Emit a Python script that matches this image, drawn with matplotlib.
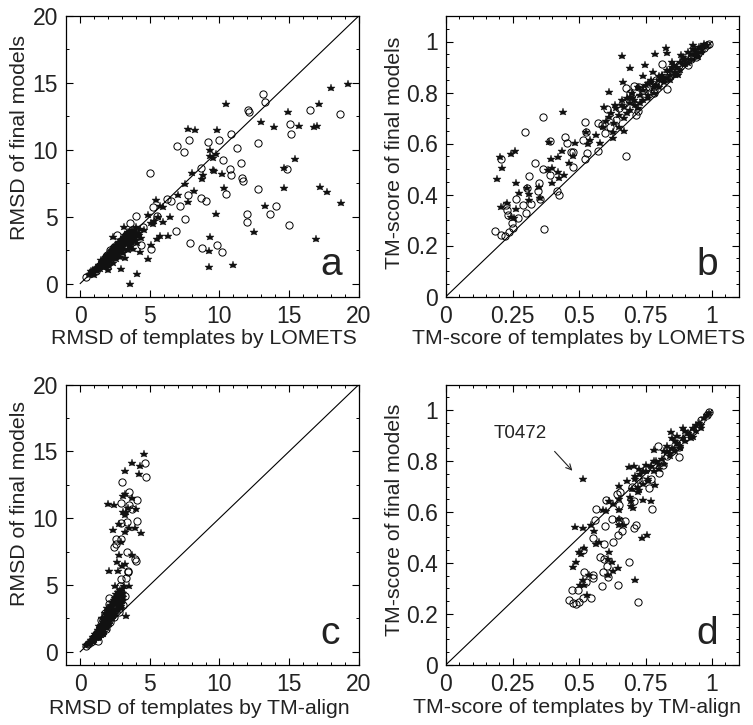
import matplotlib
matplotlib.use("Agg")
import matplotlib.pyplot as plt
from matplotlib.ticker import MultipleLocator

plt.rcParams['font.family'] = ['Liberation Sans', 'DejaVu Sans']

# Panel a: final model RMSD against LOMETS template RMSD
a_star_x = [19.2, 18.0, 17.15, 14.9, 10.45, 12.95, 13.9, 15.7, 16.8, 17.0, 7.75, 8.25, 9.85, 15.45, 14.65, 14.65, 17.2,
            17.7, 18.7, 16.95, 13.3, 12.5, 9.75, 9.35, 9.25, 9.25, 10.95, 10.3, 10.15, 9.5, 9.6, 8.8, 8.75, 8.05, 7.5,
            7.0, 8.15, 7.75, 9.3, 9.75, 9.35, 9.55, 5.45, 5.7, 5.95, 6.45, 5.95, 6.3, 5.7, 5.5, 5.05, 4.85, 4.05, 3.6,
            2.9, 2.35, 3.15, 4.9, 5.25, 4.3, 0.7, 0.8, 0.9, 1.0, 1.05, 1.2, 1.3, 1.4, 1.5, 1.6, 1.7, 1.75, 1.8, 1.9,
            2.0, 2.0, 2.05, 2.1, 2.2, 2.3, 2.35, 2.4, 2.5, 2.55, 2.6, 2.7, 2.8, 2.85, 2.9, 3.0, 3.05, 3.1, 3.2, 3.25,
            3.3, 3.4, 3.5, 3.55, 3.6, 3.7, 3.8, 3.9, 4.0, 4.1, 4.2, 4.3, 4.4, 4.6, 5.1, 5.3, 5.6, 1.15, 1.55, 1.85,
            2.25, 2.65, 2.95, 3.15, 3.45, 3.75]
a_star_y = [14.9, 14.6, 13.4, 12.8, 13.4, 12.05, 11.7, 11.8, 11.7, 11.8, 11.55, 11.45, 11.5, 9.3, 8.6, 7.15, 7.25,
            6.85, 6.05, 3.3, 5.8, 3.85, 5.2, 3.45, 2.4, 1.2, 1.35, 7.15, 8.2, 8.5, 8.4, 8.1, 7.8, 8.3, 7.45,
            6.65, 6.95, 6.1, 10.0, 9.7, 9.5, 9.35, 6.25, 5.8, 5.75, 5.0, 4.6, 3.55, 3.55, 3.35, 2.9, 1.8, 0.7, 0.0,
            1.05, 3.5, 4.2, 5.1, 4.45, 2.35, 0.7, 0.9, 0.75, 0.6, 1.0, 0.9, 1.2, 1.05, 1.4, 1.3, 1.6, 1.2, 1.75, 1.5,
            2.0, 1.0, 1.3, 1.7, 2.2, 1.9, 1.5, 2.6, 2.1, 2.8, 1.8, 2.4, 3.0, 2.0, 2.6, 3.2, 2.3, 2.8, 3.4, 1.9,
            3.0, 2.5, 3.5, 2.9, 3.2, 3.7, 2.6, 3.4, 3.8, 3.0, 3.6, 4.1, 3.4, 4.0, 4.5, 4.7, 5.0, 1.15, 1.5, 1.9,
            2.4, 2.2, 2.9, 2.6, 3.1, 3.3]
a_band_x = [0.6, 0.85, 0.95, 1.1, 1.25, 1.35, 1.45, 1.55, 1.65, 1.7,
            1.8, 1.85, 1.9, 1.95, 2.05, 2.1, 2.15, 2.2, 2.25, 2.3,
            2.4, 2.45, 2.5, 2.55, 2.6, 2.65, 2.7, 2.75, 2.8, 2.85,
            2.9, 2.95, 3.0, 3.05, 3.1, 3.15, 3.2, 3.25, 3.3, 3.35,
            3.4, 3.45, 3.5, 3.6, 3.65, 3.7, 3.8, 3.85, 3.95, 4.0,
            4.1, 4.25, 1.5, 1.75, 2.0, 2.2, 2.35, 2.5, 2.7, 2.9,
            3.1, 3.3, 3.55, 3.75]
a_band_y = [0.65, 0.85, 1.0, 1.1, 1.05, 1.35, 1.25, 1.6, 1.5, 1.8,
            1.4, 1.95, 1.7, 2.1, 1.75, 2.2, 1.9, 2.4, 2.05, 2.5,
            2.2, 2.7, 2.35, 2.55, 2.85, 2.3, 3.0, 2.55, 3.1, 2.65,
            3.25, 2.8, 2.7, 3.3, 2.95, 3.45, 3.0, 3.6, 3.2, 3.7,
            3.05, 3.85, 3.3, 3.9, 3.45, 4.0, 3.55, 3.95, 3.25, 4.2,
            3.6, 3.75, 1.75, 1.55, 1.6, 2.05, 2.6, 1.95, 2.25, 2.4,
            2.6, 3.4, 2.75, 3.05]
a_circle_x = [13.1, 13.3, 12.05, 12.15, 16.5, 18.65, 15.05, 15.15, 10.8, 10.0, 9.2, 7.8, 6.95, 7.45, 11.25, 12.8, 10.25,
              11.55, 8.7, 10.75, 10.8, 14.85, 11.65, 11.7, 12.75, 10.45, 7.75, 8.7, 9.05, 7.15, 6.55, 6.2, 5.0, 14.05,
              13.6, 11.95, 11.95, 15.0, 7.55, 6.85, 7.85, 8.75, 9.8, 10.15, 5.1, 4.0, 3.6, 2.65, 5.25, 5.5, 4.5, 4.4,
              0.45, 0.75, 1.1, 1.35, 1.6, 1.8, 1.95, 2.15, 2.3, 2.45, 2.6, 2.75, 2.9, 3.1, 3.3, 3.5, 3.7, 3.9, 1.7, 2.1]
a_circle_y = [14.2, 13.6, 13.0, 12.8, 13.0, 12.65, 11.9, 11.15, 11.15, 10.7, 10.55, 10.7, 10.25, 9.85, 10.1, 10.5, 9.2,
              9.0, 8.65, 8.55, 8.1, 8.55, 7.9, 7.7, 7.05, 6.7, 6.65, 6.4, 6.15, 5.8, 6.15, 6.3, 8.3, 5.8,
              5.2, 5.2, 4.6, 4.4, 4.8, 3.95, 3.05, 2.65, 2.9, 2.35, 2.55, 5.05, 4.55, 3.65, 5.7, 5.05, 4.25, 2.9,
              0.5, 0.8, 0.9, 1.3, 1.5, 1.9, 2.1, 2.5, 2.2, 2.7, 2.4, 2.9, 3.0, 3.1, 3.6, 3.2, 4.0, 3.5, 1.4, 1.7]

# Panel b: final model TM-score against LOMETS template TM-score
b_star_x = [0.203, 0.21, 0.193, 0.245, 0.26, 0.263, 0.276, 0.205, 0.229, 0.263, 0.244, 0.257, 0.313, 0.313, 0.303, 0.35,
            0.353, 0.388, 0.395, 0.4, 0.382, 0.397, 0.42, 0.42, 0.424, 0.436, 0.442, 0.439, 0.484, 0.464, 0.476, 0.526,
            0.533, 0.541, 0.564, 0.579, 0.589, 0.594, 0.612, 0.662, 0.692, 0.667, 0.746, 0.739, 0.784, 0.827, 0.83,
            0.67, 0.627, 0.629, 0.649, 0.614, 0.635, 0.67, 0.69, 0.708, 0.727, 0.758, 0.777, 0.802, 0.827, 0.84, 0.858,
            0.871, 0.883, 0.896, 0.908, 0.927, 0.937, 0.946, 0.971, 0.959]
b_star_y = [0.548, 0.503, 0.459, 0.558, 0.569, 0.446, 0.404, 0.35, 0.368, 0.345, 0.313, 0.306, 0.402, 0.378, 0.424, 0.43,
            0.385, 0.607, 0.538, 0.503, 0.496, 0.444, 0.546, 0.49, 0.463, 0.571, 0.476, 0.725, 0.601, 0.525, 0.551, 0.647,
            0.6, 0.614, 0.634, 0.603, 0.666, 0.742, 0.801, 0.945, 0.898, 0.843, 0.906, 0.865, 0.952, 0.974, 0.954,
            0.649, 0.647, 0.62, 0.666, 0.705, 0.751, 0.745, 0.784, 0.771, 0.817, 0.836, 0.882, 0.863, 0.856, 0.889, 0.908,
            0.869, 0.948, 0.928, 0.915, 0.987, 0.967, 0.941, 0.984, 0.978]
b_band_x = [0.60, 0.62, 0.63, 0.64, 0.65, 0.66, 0.67, 0.68, 0.69, 0.70,
            0.71, 0.72, 0.73, 0.74, 0.75, 0.76, 0.77, 0.78, 0.79, 0.80,
            0.81, 0.82, 0.83, 0.84, 0.85, 0.86, 0.87, 0.88, 0.89, 0.90,
            0.91, 0.92, 0.93, 0.94, 0.95, 0.96, 0.97, 0.98, 0.66, 0.68,
            0.70, 0.72, 0.74, 0.76, 0.78, 0.80, 0.82, 0.84, 0.86, 0.88,
            0.90, 0.92, 0.94, 0.96, 0.69, 0.73, 0.77, 0.81, 0.85, 0.89]
b_band_y = [0.69, 0.72, 0.68, 0.74, 0.71, 0.77, 0.70, 0.78, 0.73, 0.80,
            0.75, 0.82, 0.76, 0.77, 0.83, 0.79, 0.85, 0.80, 0.83, 0.82,
            0.87, 0.84, 0.89, 0.85, 0.92, 0.87, 0.90, 0.89, 0.94, 0.91,
            0.96, 0.93, 0.97, 0.95, 0.98, 0.96, 0.99, 0.985, 0.75, 0.72,
            0.78, 0.74, 0.81, 0.78, 0.82, 0.85, 0.85, 0.87, 0.88, 0.92,
            0.93, 0.95, 0.96, 0.975, 0.76, 0.79, 0.84, 0.86, 0.90, 0.91]
b_circle_x = [0.183, 0.205, 0.223, 0.238, 0.251, 0.37, 0.205, 0.297, 0.365, 0.226, 0.229, 0.234, 0.263, 0.248, 0.269, 0.291,
              0.3, 0.303, 0.321, 0.313, 0.333, 0.345, 0.351, 0.353, 0.365, 0.392, 0.39, 0.417, 0.426, 0.446, 0.454, 0.469,
              0.479, 0.479, 0.513, 0.523, 0.524, 0.529, 0.526, 0.57, 0.573, 0.585, 0.598, 0.605, 0.617, 0.677, 0.639,
              0.664, 0.677, 0.706, 0.727, 0.714, 0.723, 0.812, 0.832, 0.877, 0.911, 0.99, 0.94, 0.764, 0.789, 0.695,
              0.739, 0.865, 0.9, 0.84, 0.78, 0.96, 0.98, 0.92, 0.65, 0.69, 0.72, 0.75, 0.78, 0.8, 0.82, 0.85, 0.87,
              0.89, 0.92, 0.95, 0.97]
b_circle_y = [0.258, 0.243, 0.238, 0.254, 0.267, 0.264, 0.541, 0.647, 0.704, 0.359, 0.339, 0.319, 0.381, 0.289, 0.306, 0.359,
              0.326, 0.424, 0.361, 0.474, 0.522, 0.415, 0.446, 0.384, 0.499, 0.478, 0.61, 0.415, 0.4, 0.627, 0.601, 0.567,
              0.565, 0.509, 0.613, 0.683, 0.538, 0.562, 0.647, 0.682, 0.572, 0.673, 0.64, 0.736, 0.666, 0.55, 0.692,
              0.758, 0.817, 0.827, 0.823, 0.712, 0.729, 0.912, 0.813, 0.908, 0.908, 0.99, 0.941, 0.823, 0.849, 0.771,
              0.81, 0.889, 0.925, 0.87, 0.8, 0.965, 0.985, 0.93, 0.74, 0.80, 0.78, 0.82, 0.81, 0.84, 0.87, 0.89, 0.88,
              0.92, 0.94, 0.96, 0.975]

# Panel c: final model RMSD against TM-align template RMSD
c_star_x = [4.6, 3.7, 3.25, 4.3, 4.2, 3.05, 3.25, 3.7, 2.0, 2.45, 4.0, 3.45, 3.1, 3.3, 3.2, 2.35, 2.75, 4.35, 3.95, 3.5,
            3.2, 2.9, 2.75, 3.7, 2.65, 3.2, 3.0, 2.1, 2.7, 2.5, 3.5, 3.3, 0.55, 0.7, 0.85, 1.0, 1.15, 1.3, 1.4, 1.5, 1.6,
            1.7, 1.8, 1.9, 2.0, 2.1, 2.2, 2.3, 2.4, 2.5, 2.6, 2.7, 2.8, 2.9, 3.0, 3.1, 1.25, 1.45, 1.65, 1.85, 2.05,
            2.25, 2.45, 2.65, 2.85]
c_star_y = [14.8, 14.1, 13.55, 13.9, 13.3, 11.7, 11.8, 11.5, 11.05, 11.0, 10.7, 10.8, 10.45, 10.5, 10.25, 9.1, 9.6, 8.9,
            9.3, 9.25, 8.95, 8.2, 7.25, 7.25, 6.7, 6.55, 6.45, 6.05, 6.05, 4.95, 4.95, 2.7, 0.55, 0.7, 0.85, 0.95, 1.2,
            1.05, 1.5, 1.25, 2.0, 1.5, 2.4, 1.8, 2.9, 2.1, 3.4, 2.5, 3.7, 2.8, 4.1, 3.1, 4.4, 3.4, 4.7, 3.9, 1.45, 1.75,
            1.3, 2.2, 2.55, 3.0, 3.2, 3.6, 3.7]
c_band_x = [0.45, 0.6, 0.7, 0.8, 0.9, 0.95, 1.0, 1.05, 1.1, 1.2,
            1.25, 1.3, 1.35, 1.4, 1.45, 1.5, 1.55, 1.6, 1.65, 1.7,
            1.75, 1.8, 1.85, 1.9, 1.95, 2.0, 2.05, 2.1, 2.15, 2.2,
            2.25, 2.3, 2.35, 2.4, 2.45, 2.5, 2.55, 2.6, 2.65, 2.7,
            2.75, 2.8, 2.85, 2.9, 2.95, 3.0, 3.1, 3.15, 1.35, 1.55,
            1.75, 1.95, 2.15, 2.35, 2.55, 2.75, 2.95, 3.05, 1.6, 1.8]
c_band_y = [0.5, 0.6, 0.65, 0.9, 0.75, 1.1, 0.9, 1.3, 1.0, 1.4,
            1.1, 1.6, 1.25, 1.75, 1.4, 2.0, 1.55, 2.2, 1.7, 2.4,
            1.85, 2.6, 1.9, 2.8, 2.05, 3.1, 2.1, 3.2, 2.4, 3.5,
            2.55, 3.7, 2.7, 3.9, 2.85, 4.0, 3.1, 4.3, 3.2, 4.5,
            3.4, 3.7, 4.6, 3.6, 4.2, 3.8, 4.4, 4.9, 1.95, 2.5,
            2.9, 3.3, 2.7, 3.05, 3.6, 3.85, 3.3, 4.1, 1.9, 2.15]
c_circle_x = [4.65, 4.75, 3.0, 3.5, 4.05, 2.9, 3.5, 3.7, 4.1, 3.35, 2.95, 2.55, 2.95, 2.6, 2.4, 3.35, 3.9, 4.0, 3.45, 3.4,
              2.95, 3.3, 2.85, 2.1, 1.3, 0.4, 0.55, 0.75, 0.95, 1.1, 1.25, 1.4, 1.55, 1.7, 1.85, 2.0, 2.15, 2.3, 2.45,
              2.6, 2.75, 2.9, 3.05, 3.2, 1.5, 1.75, 2.05, 2.35, 2.55]
c_circle_y = [14.1, 13.1, 12.7, 11.95, 11.35, 11.15, 11.0, 10.7, 9.8, 9.75, 9.65, 8.45, 8.45, 8.05, 7.85, 7.5, 6.95, 6.8,
              6.05, 5.95, 5.45, 5.5, 4.95, 4.05, 0.8, 0.45, 0.6, 0.75, 1.0, 1.3, 1.15, 1.7, 1.4, 2.2, 1.7, 2.8, 2.2,
              3.4, 2.6, 4.0, 3.0, 4.5, 3.5, 4.2, 2.4, 2.9, 3.6, 3.0, 3.5]

# Panel d: final model TM-score against TM-align template TM-score
d_star_x = [0.516, 0.486, 0.515, 0.545, 0.558, 0.564, 0.574, 0.489, 0.479, 0.501, 0.52, 0.507, 0.504, 0.514, 0.52, 0.539,
            0.529, 0.614, 0.623, 0.608, 0.629, 0.645, 0.608, 0.709, 0.737, 0.754, 0.67, 0.649, 0.652, 0.589, 0.602, 0.627,
            0.614, 0.652, 0.652, 0.695, 0.695, 0.702, 0.739, 0.769, 0.787, 0.727, 0.652, 0.687, 0.708, 0.727, 0.752,
            0.783, 0.846, 0.927]
d_star_y = [0.729, 0.542, 0.537, 0.547, 0.527, 0.475, 0.482, 0.403, 0.384, 0.442, 0.458, 0.436, 0.314, 0.331, 0.312, 0.351,
            0.272, 0.442, 0.403, 0.416, 0.368, 0.38, 0.351, 0.332, 0.499, 0.508, 0.547, 0.573, 0.547, 0.607, 0.603, 0.632,
            0.645, 0.652, 0.606, 0.645, 0.623, 0.615, 0.649, 0.644, 0.707, 0.685, 0.704, 0.776, 0.78, 0.77, 0.783,
            0.842, 0.914, 0.894]
d_band_x = [0.70, 0.71, 0.72, 0.73, 0.74, 0.75, 0.76, 0.77, 0.78, 0.79,
            0.80, 0.81, 0.82, 0.83, 0.84, 0.85, 0.86, 0.87, 0.88, 0.89,
            0.90, 0.91, 0.92, 0.93, 0.94, 0.95, 0.96, 0.97, 0.98, 0.99,
            0.68, 0.69, 0.71, 0.72, 0.74, 0.76, 0.78, 0.80, 0.82, 0.84,
            0.86, 0.88, 0.90, 0.92, 0.94, 0.96, 0.83, 0.85, 0.87, 0.89]
d_band_y = [0.69, 0.73, 0.68, 0.75, 0.71, 0.76, 0.72, 0.78, 0.76, 0.80,
            0.77, 0.81, 0.79, 0.84, 0.82, 0.85, 0.84, 0.87, 0.86, 0.89,
            0.88, 0.91, 0.90, 0.93, 0.92, 0.95, 0.94, 0.97, 0.98, 0.99,
            0.72, 0.66, 0.74, 0.70, 0.76, 0.73, 0.80, 0.79, 0.84, 0.83,
            0.88, 0.85, 0.92, 0.89, 0.94, 0.93, 0.86, 0.89, 0.90, 0.93]
d_circle_x = [0.464, 0.476, 0.489, 0.501, 0.514, 0.545, 0.472, 0.495, 0.526, 0.518, 0.551, 0.551, 0.586, 0.591, 0.608, 0.605,
              0.579, 0.595, 0.516, 0.551, 0.595, 0.628, 0.645, 0.66, 0.648, 0.689, 0.721, 0.708, 0.714, 0.674, 0.652, 0.622,
              0.598, 0.561, 0.564, 0.602, 0.649, 0.642, 0.654, 0.708, 0.773, 0.762, 0.771, 0.802, 0.817, 0.877, 0.877,
              0.796, 0.99, 0.7, 0.72, 0.74, 0.75, 0.78, 0.83, 0.85, 0.9, 0.93, 0.96, 0.98]
d_circle_y = [0.255, 0.243, 0.237, 0.246, 0.262, 0.264, 0.292, 0.295, 0.325, 0.363, 0.351, 0.34, 0.308, 0.363, 0.344, 0.387,
              0.423, 0.416, 0.449, 0.499, 0.475, 0.482, 0.508, 0.525, 0.312, 0.403, 0.245, 0.537, 0.55, 0.563, 0.567, 0.573,
              0.544, 0.567, 0.61, 0.649, 0.628, 0.671, 0.678, 0.645, 0.613, 0.694, 0.73, 0.754, 0.783, 0.815, 0.855,
              0.859, 0.992, 0.7, 0.73, 0.72, 0.77, 0.79, 0.82, 0.84, 0.89, 0.92, 0.96, 0.98]

rmsd_ticks = [0, 5, 10, 15, 20]
tm_x_ticks = [0, 0.25, 0.5, 0.75, 1]
tm_x_labels = ['0', '0.25', '0.5', '0.75', '1']
tm_y_ticks = [0, 0.2, 0.4, 0.6, 0.8, 1]
tm_y_labels = ['0', '0.2', '0.4', '0.6', '0.8', '1']
INK = '#222222'
W, H = 753, 725


# Draw one scatter panel; box and label spots are pixel positions in the figure
def draw_panel(box, star_x, star_y, circle_x, circle_y, xlabel, ylabel, letter, kind, xlabel_at, ylabel_at, letter_x):
    left, right, top, bottom = box
    ax = fig.add_axes([left / W, 1 - bottom / H, (right - left) / W, (bottom - top) / H])

    if kind == 'rmsd':
        ax.plot([0, 20], [0, 20], color='black', lw=0.8, zorder=1)
    else:
        ax.plot([0, 1], [0, 1], color='black', lw=0.8, zorder=1)
    ax.plot(circle_x, circle_y, 'o', mfc='none', mec='black', mew=0.7, ms=5.2, zorder=2)
    ax.plot(star_x, star_y, '*', color='#111111', mew=0.3, ms=6.2, zorder=3)

    if kind == 'rmsd':
        ax.set_xlim(-1, 20)
        ax.set_ylim(-0.97, 20)
        ax.set_xticks(rmsd_ticks)
        ax.set_yticks(rmsd_ticks)
        ax.xaxis.set_minor_locator(MultipleLocator(1))
        ax.yaxis.set_minor_locator(MultipleLocator(2.5))
    else:
        ax.set_xlim(0, 1.1)
        ax.set_ylim(0, 1.1)
        ax.set_xticks(tm_x_ticks, tm_x_labels)
        ax.set_yticks(tm_y_ticks, tm_y_labels)
        ax.xaxis.set_minor_locator(MultipleLocator(0.05))
        ax.yaxis.set_minor_locator(MultipleLocator(0.05))

    ax.tick_params(which='major', direction='in', top=True, right=True, length=5, width=0.8,
                   labelsize=16.5, labelcolor=INK, pad=6)
    ax.tick_params(which='minor', direction='in', top=True, right=True, length=2.5, width=0.7)
    for spine in ax.spines.values():
        spine.set_linewidth(0.9)

    ax.set_xlabel(xlabel, fontsize=15.3, color=INK, va='center')
    ax.set_ylabel(ylabel, fontsize=15.3, color=INK, va='center')
    ax.xaxis.set_label_coords((xlabel_at[0] - left) / (right - left), (bottom - xlabel_at[1]) / (bottom - top))
    ax.yaxis.set_label_coords((ylabel_at[0] - left) / (right - left), (bottom - ylabel_at[1]) / (bottom - top))
    ax.text(letter_x, 0.075, letter, transform=ax.transAxes, ha='right', va='baseline', fontsize=28, color=INK)
    return ax


fig = plt.figure(figsize=(W / 100, H / 100), dpi=100)

draw_panel((66.3, 358.7, 16, 296.5), a_star_x + a_band_x, a_star_y + a_band_y, a_circle_x, a_circle_y,
           'RMSD of templates by LOMETS', 'RMSD of final models', 'a', 'rmsd', (203.5, 338.5), (20, 137.5), 0.943)
draw_panel((446, 738.7, 16, 296.5), b_star_x + b_band_x, b_star_y + b_band_y, b_circle_x, b_circle_y,
           'TM-score of templates by LOMETS', 'TM-score of final models', 'b', 'tm', (579, 338.5), (394, 153), 0.928)
draw_panel((66.3, 358.7, 384.7, 664.7), c_star_x + c_band_x, c_star_y + c_band_y, c_circle_x, c_circle_y,
           'RMSD of templates by TM-align', 'RMSD of final models', 'c', 'rmsd', (199, 708), (20, 503.5), 0.936)
ax_d = draw_panel((446, 738.7, 384.7, 664.7), d_star_x + d_band_x, d_star_y + d_band_y, d_circle_x, d_circle_y,
                  'TM-score of templates by TM-align', 'TM-score of final models', 'd', 'tm', (577, 707.5), (394, 519.5), 0.928)

ax_d.annotate('', xy=(0.482, 0.754), xytext=(0.401, 0.846),
              arrowprops=dict(arrowstyle='->', color=INK, lw=0.8))
ax_d.text(0.178, 0.907, 'T0472', ha='left', va='center', fontsize=13.5, color=INK)

fig.savefig('out.png', dpi=100)
